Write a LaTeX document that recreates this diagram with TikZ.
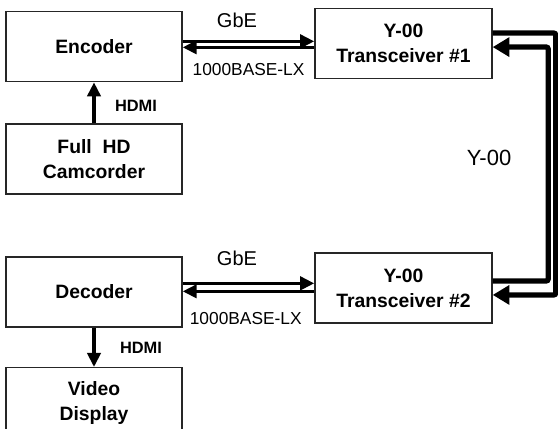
\documentclass[tikz,border=0pt]{standalone}
\usepackage{fontspec}
\setmainfont{Liberation Sans}
\usetikzlibrary{arrows.meta, positioning}

\begin{document}
\begin{tikzpicture}[
    box/.style={rectangle, draw=black!85, line width=1.1pt, minimum width=132pt, minimum height=52.5pt, align=center, inner sep=0pt, font=\fontsize{14.5pt}{18.5pt}\selectfont\bfseries},
    trx/.style={box, minimum width=132.75pt},
    arr/.style={-{Triangle[length=10.5pt, width=10pt]}, line width=2.4pt},
    fiber/.style={-{Triangle[length=12.5pt, width=14pt]}, line width=4pt, rounded corners=1.5pt},
    lbl/.style={font=\fontsize{15pt}{18pt}\selectfont, inner sep=0pt},
    phy/.style={font=\fontsize{13pt}{15pt}\selectfont, inner sep=0pt},
    hdmi/.style={font=\fontsize{12.3pt}{15pt}\selectfont\bfseries, inner sep=0pt}
]

% Frame
\useasboundingbox (0,0) rectangle (418.5pt,-321.75pt);
\clip (0,0) rectangle (418.5pt,-321.75pt);

% Sender side
\node[box] (enc) at (70.5pt,-35pt) {Encoder};
\node[box, below=30.75pt of enc] (cam) {Full\ \ HD\\Camcorder};
\node[trx] (trx1) at (302.6pt,-32.5pt) {Y-00\\Transceiver \#1};

% Receiver side
\node[box] (dec) at (70.5pt,-218.9pt) {Decoder};
\node[box, below=29.5pt of dec] (vid) {Video\\Display};
\node[trx, below=130pt of trx1] (trx2) {Y-00\\Transceiver \#2};

% Labels
\node[lbl] (gbe1) at (177.75pt,-15pt) {GbE};
\node[phy] (lx1) at (186.4pt,-52.5pt) {1000BASE-LX};
\node[lbl] (gbe2) at (177.75pt,-193.7pt) {GbE};
\node[phy] (lx2) at (184.3pt,-238.7pt) {1000BASE-LX};
\node[hdmi] (hdmi1) at (102pt,-79.5pt) {HDMI};
\node[hdmi] (hdmi2) at (105.75pt,-261.2pt) {HDMI};
\node[lbl, font=\fontsize{16.5pt}{18pt}\selectfont] (y00) at (366.75pt,-118.1pt) {Y-00};

% Arrows - GbE links
\draw[arr] ([yshift=4pt]enc.east) coordinate (e1) -- (e1 -| trx1.west);
\draw[arr] ([yshift=-3pt]trx1.west) coordinate (t1) -- (t1 -| enc.east);
\draw[arr] ([yshift=6.4pt]dec.east) coordinate (d1) -- (d1 -| trx2.west);
\draw[arr] ([yshift=-2.4pt]trx2.west) coordinate (t2) -- (t2 -| dec.east);

% Arrows - HDMI
\draw[arr] (cam) -- (enc);
\draw[arr] (dec) -- (vid);

% Y-00 link between transceivers
\draw[fiber] ([yshift=7.7pt]trx1.east) -- ++(47.25pt,0) |- ([yshift=-5.1pt]trx2.east);
\draw[fiber] ([yshift=5.4pt]trx2.east) -- ++(41.6pt,0) |- ([yshift=-2.8pt]trx1.east);

\end{tikzpicture}
\end{document}
